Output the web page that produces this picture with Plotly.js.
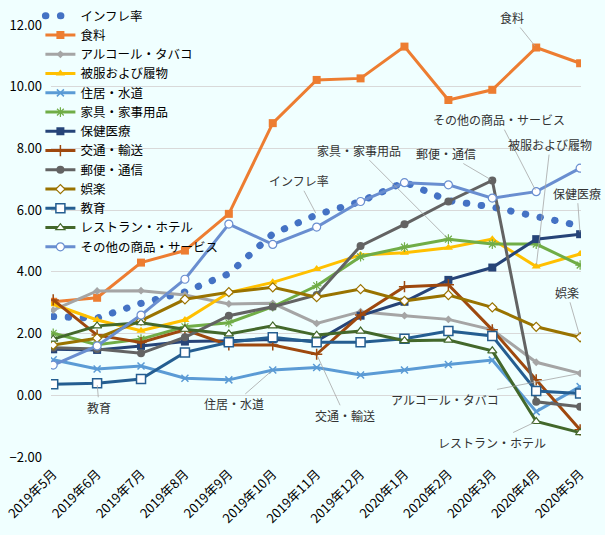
<!DOCTYPE html>
<html>
<head>
<meta charset="utf-8">
<script src="https://cdn.plot.ly/plotly-3.0.1.min.js"></script>
<style>
  body { margin: 0; background: #f0ffff; }
  #chart { width: 605px; height: 535px; }
  /* round dots for the inflation line, in plot and legend */
  .scatterlayer .trace:first-of-type path.js-line { stroke-linecap: round; }
  .legend .traces:first-of-type path.js-line { stroke-linecap: round; }
</style>
</head>
<body>
<div id="chart"></div>
<script>
// months on the category axis
var months = ['2019年5月','2019年6月','2019年7月','2019年8月','2019年9月','2019年10月','2019年11月',
              '2019年12月','2020年1月','2020年2月','2020年3月','2020年4月','2020年5月'];

// values (%)
var inflation   = [2.55, 2.50, 2.98, 3.35, 3.94, 5.23, 5.85, 6.28, 6.91, 6.31, 6.10, 5.81, 5.49];
var food        = [3.03, 3.16, 4.30, 4.69, 5.88, 8.82, 10.22, 10.27, 11.30, 9.57, 9.90, 11.27, 10.76];
var alcohol     = [2.76, 3.38, 3.39, 3.25, 2.96, 2.98, 2.33, 2.71, 2.58, 2.46, 2.12, 1.07, 0.71];
var clothing    = [2.95, 2.44, 2.09, 2.44, 3.33, 3.66, 4.09, 4.55, 4.62, 4.78, 5.06, 4.17, 4.58];
var housing     = [1.15, 0.85, 0.95, 0.55, 0.50, 0.82, 0.90, 0.66, 0.82, 1.00, 1.14, -0.53, 0.28];
var furnishing  = [2.01, 1.64, 1.82, 2.22, 2.35, 2.87, 3.55, 4.49, 4.80, 5.06, 4.90, 4.90, 4.22];
var health      = [1.49, 1.47, 1.60, 1.74, 1.77, 1.81, 1.76, 2.58, 3.03, 3.74, 4.14, 5.06, 5.22];
var transport   = [3.09, 1.95, 1.71, 2.12, 1.63, 1.63, 1.33, 2.60, 3.52, 3.58, 2.12, 0.50, -1.12];
var communication = [1.54, 1.50, 1.36, 1.88, 2.58, 2.87, 3.25, 4.84, 5.54, 6.28, 6.96, -0.21, -0.37];
var recreation  = [1.63, 1.85, 2.42, 3.11, 3.34, 3.50, 3.18, 3.44, 3.06, 3.25, 2.85, 2.22, 1.88];
var education   = [0.36, 0.39, 0.53, 1.39, 1.72, 1.88, 1.72, 1.72, 1.83, 2.08, 1.92, 0.14, 0.06];
var restaurants = [1.82, 2.25, 2.35, 2.14, 1.99, 2.25, 1.95, 2.08, 1.77, 1.79, 1.44, -0.85, -1.21];
var otherGoods  = [0.98, 1.60, 2.60, 3.76, 5.55, 4.89, 5.45, 6.28, 6.89, 6.82, 6.39, 6.60, 7.36];

var names = ['インフレ率','食料','アルコール・タバコ','被服および履物','住居・水道','家具・家事用品',
             '保健医療','交通・輸送','郵便・通信','娯楽','教育','レストラン・ホテル','その他の商品・サービス'];
var series = [inflation, food, alcohol, clothing, housing, furnishing, health, transport,
              communication, recreation, education, restaurants, otherGoods];
var colors = ['#4472C4','#ED7D31','#A5A5A5','#FFC000','#5B9BD5','#70AD47','#264478','#9E480E',
              '#636363','#997300','#255E91','#43682B','#698ED0'];

// marker style per series
var markers = [
  null,
  {symbol: 'square', size: 8},
  {symbol: 'diamond', size: 6},
  {symbol: 'triangle-up', size: 8},
  {symbol: 'x-thin', size: 7, line: {width: 1.5}},
  {symbol: 'asterisk', size: 8, line: {width: 1.2}},
  {symbol: 'square', size: 8},
  {symbol: 'cross-thin', size: 8, line: {width: 1.5}},
  {symbol: 'circle', size: 8},
  {symbol: 'diamond', size: 7, color: 'white', line: {width: 1.2}},
  {symbol: 'square', size: 9, color: 'white', line: {width: 1.5}},
  {symbol: 'triangle-up', size: 8, color: 'white', line: {width: 1.2}},
  {symbol: 'circle', size: 8, color: 'white', line: {width: 1.2}}
];

var data = [];
for (var i = 0; i < series.length; i++) {
    var tr = {
        x: months,
        y: series[i],
        name: names[i],
        type: 'scatter',
        line: {color: colors[i], width: 3}
    };
    if (i == 0) {
        tr.mode = 'lines';
        tr.line = {color: colors[i], width: 7, dash: '0.5px,14.5px'};
    } else {
        var m = markers[i];
        tr.mode = 'lines+markers';
        tr.marker = {
            symbol: m.symbol,
            size: m.size,
            color: m.color || colors[i],
            line: {color: colors[i], width: m.line ? m.line.width : 0}
        };
    }
    data.push(tr);
}

// labels with leader lines: [series index, month index, x offset, y offset]
var labelSpots = [
    [1, 11, -24, -30],
    [0, 6, -18, -34],
    [12, 11, -37, -72],
    [3, 11, 14, -122],
    [6, 12, -3, -41],
    [5, 9, -89, -89],
    [8, 10, -46, -27],
    [9, 12, -13, -45],
    [2, 12, -135, 26],
    [11, 11, -44, 21],
    [7, 6, 28, 61],
    [4, 5, -39, 34],
    [10, 1, 2, 24]
];
var annotations = labelSpots.map(function(s) {
    return {
        x: s[1], y: series[s[0]][s[1]],
        xref: 'x', yref: 'y',
        text: names[s[0]],
        showarrow: true, arrowhead: 0, arrowwidth: 0.8, arrowcolor: '#a6a6a6',
        ax: s[2], ay: s[3], standoff: 2,
        font: {size: 12, color: '#333333'}
    };
});

var layout = {
    width: 605, height: 535,
    margin: {l: 51, r: 24, t: 25, b: 78, autoexpand: false},
    paper_bgcolor: '#f0ffff',
    plot_bgcolor: '#f0ffff',
    font: {family: '"Noto Sans CJK JP", "Noto Sans", sans-serif', color: '#000000'},
    showlegend: true,
    legend: {
        x: -0.02, y: 1.055, xanchor: 'left', yanchor: 'top',
        bgcolor: 'rgba(0,0,0,0)',
        font: {size: 12.5},
        itemwidth: 30,
        tracegroupgap: 0
    },
    xaxis: {
        type: 'category',
        range: [-0.05, 12.02],
        tickangle: -45,
        tickfont: {size: 13},
        ticklabelstandoff: 6,
        showgrid: false,
        showline: false,
        zeroline: false
    },
    yaxis: {
        range: [-2, 12],
        dtick: 2,
        tickformat: '.2f',
        tickfont: {size: 13},
        ticklabelstandoff: 8,
        gridcolor: '#d9d9d9',
        gridwidth: 1,
        zeroline: true,
        zerolinecolor: '#d9d9d9',
        zerolinewidth: 1,
        showline: false
    },
    annotations: annotations
};

Plotly.newPlot('chart', data, layout, {displayModeBar: false});
</script>
</body>
</html>
